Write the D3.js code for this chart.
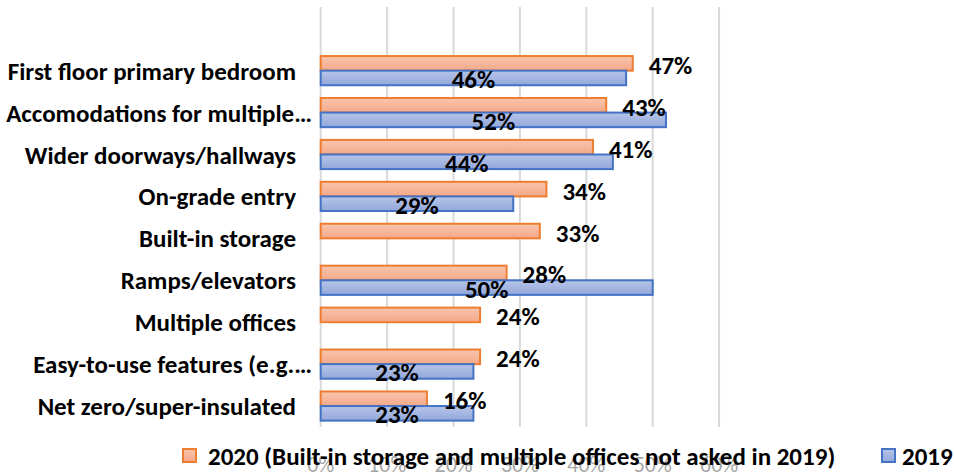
<!DOCTYPE html>
<html>
<head>
<meta charset="utf-8">
<script src="https://cdn.jsdelivr.net/npm/d3@7"></script>
<style>
  body { margin: 0; background: #fff; }
  svg { display: block; font-family: Carlito, Lato, sans-serif; }
</style>
</head>
<body>
<svg id="chart" width="954" height="472"></svg>
<script>
const categories = [
  "First floor primary bedroom",
  "Accomodations for multiple…",
  "Wider doorways/hallways",
  "On-grade entry",
  "Built-in storage",
  "Ramps/elevators",
  "Multiple offices",
  "Easy-to-use features (e.g.…",
  "Net zero/super-insulated"
];
const values2020 = [47, 43, 41, 34, 33, 28, 24, 24, 16];
const values2019 = [46, 52, 44, 29, null, 50, null, 23, 23];
const tickValues = [0, 10, 20, 30, 40, 50, 60];
const seriesNames = ["2020 (Built-in storage and multiple offices not asked in 2019)", "2019"];

const svg = d3.select("#chart");
const fs = "25px";

// gradients for the bars
const defs = svg.append("defs");
const grad = (id, c1, c2) => {
  const g = defs.append("linearGradient").attr("id", id)
    .attr("x1", 0).attr("y1", 0).attr("x2", 0).attr("y2", 1);
  g.append("stop").attr("offset", "0%").attr("stop-color", c1);
  g.append("stop").attr("offset", "100%").attr("stop-color", c2);
};
grad("gOrange", "#f8c5ad", "#f3a888");
grad("gBlue", "#b6c4e8", "#93a8da");

const x = d3.scaleLinear().domain([0, 60]).range([320.7, 719.1]);
const y = d3.scaleBand().domain(categories).range([49.7, 427]).paddingInner(0).paddingOuter(0);
const barH = 14.6;

// gridlines
svg.append("g")
  .selectAll("line")
  .data(tickValues)
  .join("line")
  .attr("x1", d => x(d)).attr("x2", d => x(d))
  .attr("y1", 7).attr("y2", 427)
  .attr("stroke", "#d9d9d9")
  .attr("stroke-width", 2);

// x axis tick labels (sit behind the legend)
svg.append("g")
  .selectAll("text")
  .data(tickValues)
  .join("text")
  .attr("x", d => x(d))
  .attr("y", 472)
  .attr("text-anchor", "middle")
  .attr("fill", "#a6a6a6")
  .style("font-size", "22px")
  .text(d => d + "%");

// category labels (truncated ones run a bit further right, like the original)
svg.append("g")
  .selectAll("text")
  .data(categories)
  .join("text")
  .attr("x", d => d.endsWith("…") ? 312 : 296)
  .attr("y", d => y(d) + y.bandwidth() / 2)
  .attr("dy", "0.36em")
  .attr("text-anchor", "end")
  .attr("fill", "#000")
  .style("font-size", fs)
  .style("font-weight", "bold")
  .text(d => d);

const mid = d => y(d) + y.bandwidth() / 2;

const d2020 = categories.map((c, i) => ({ c, v: values2020[i] }));
const d2019 = categories.map((c, i) => ({ c, v: values2019[i] })).filter(d => d.v != null);

// 2020 bars
svg.append("g")
  .selectAll("rect")
  .data(d2020)
  .join("rect")
  .attr("x", x(0))
  .attr("y", d => mid(d.c) - barH)
  .attr("width", d => x(d.v) - x(0))
  .attr("height", barH)
  .attr("fill", "url(#gOrange)")
  .attr("stroke", "#ed7d31")
  .attr("stroke-width", 2);

// 2019 bars
svg.append("g")
  .selectAll("rect")
  .data(d2019)
  .join("rect")
  .attr("x", x(0))
  .attr("y", d => mid(d.c))
  .attr("width", d => x(d.v) - x(0))
  .attr("height", barH)
  .attr("fill", "url(#gBlue)")
  .attr("stroke", "#4472c4")
  .attr("stroke-width", 2);

// labels
svg.append("g")
  .selectAll("text")
  .data(d2019)
  .join("text")
  .attr("x", d => (x(0) + x(d.v)) / 2)
  .attr("y", d => mid(d.c) + barH / 2 + 1)
  .attr("dy", "0.36em")
  .attr("text-anchor", "middle")
  .style("font-size", fs)
  .style("font-weight", "bold")
  .text(d => d.v + "%");

svg.append("g")
  .selectAll("text")
  .data(d2020)
  .join("text")
  .attr("x", d => x(d.v) + 16)
  .attr("y", d => mid(d.c) - barH / 2 + 1.5)
  .attr("dy", "0.36em")
  .style("font-size", fs)
  .style("font-weight", "bold")
  .text(d => d.v + "%");

// legend
const legend = [
  { name: seriesNames[0], sx: 183, tx: 208, fill: "url(#gOrange)", stroke: "#ed7d31" },
  { name: seriesNames[1], sx: 882, tx: 902, fill: "url(#gBlue)", stroke: "#4472c4" }
];
const lg = svg.append("g").selectAll("g").data(legend).join("g");
lg.append("rect")
  .attr("x", d => d.sx).attr("y", 449)
  .attr("width", 13).attr("height", 13)
  .attr("fill", d => d.fill)
  .attr("stroke", d => d.stroke)
  .attr("stroke-width", 2);
lg.append("text")
  .attr("x", d => d.tx)
  .attr("y", 456)
  .attr("dy", "0.36em")
  .style("font-size", fs)
  .style("font-weight", "bold")
  .text(d => d.name);
</script>
</body>
</html>
